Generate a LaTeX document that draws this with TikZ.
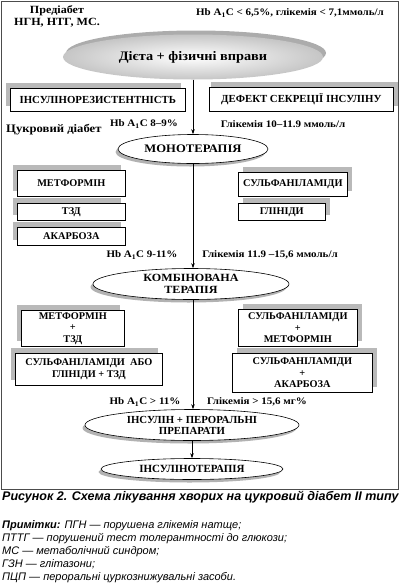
\documentclass[tikz,border=0pt]{standalone}
\usepackage{fontspec}
\setmainfont{Liberation Serif}
\newfontfamily\wf[FakeStretch=1.1]{Liberation Serif}
\newfontfamily\capfont{Liberation Sans}
\usetikzlibrary{shapes.geometric,arrows.meta,shadows}
\tikzset{
  lbl/.style={font=\wf\bfseries\fontsize{10}{12.5}\selectfont, inner sep=0, align=center},
  boxbase/.style={draw, fill=white, line width=0.6pt, anchor=north west, inner sep=0, align=center,
     font=\bfseries\fontsize{10.3}{11.5}\selectfont},
  lbox/.style={boxbase, drop shadow={shadow xshift=-4pt, shadow yshift=5pt, fill=gray!55, opacity=1}},
  rbox/.style={boxbase, drop shadow={shadow xshift=5pt, shadow yshift=5pt, fill=gray!55, opacity=1}},
  ell/.style={ellipse, draw, fill=white, line width=0.6pt, inner sep=0, align=center,
     font=\wf\bfseries\fontsize{11.5}{12}\selectfont,
     drop shadow={shadow xshift=-2.5pt, shadow yshift=-3pt, fill=gray!60, opacity=1}},
  arr/.style={line width=0.5pt, -{Stealth[length=5pt,width=3.5pt]}},
}
\begin{document}
\begin{tikzpicture}[x=1pt,y=-1pt]
\useasboundingbox (0,0) rectangle (400,587);
\draw[line width=0.7pt, black!70] (1,1) rectangle (398,489);

% top texts
\node[lbl, font=\wf\bfseries\fontsize{11}{12}\selectfont] (pre) at (57,16) {Предіабет\\НГН, НТГ, МС.};
\node[lbl] (goal) at (290,13) {Hb A\textsubscript{1}C < 6,5\%, глікемія < 7,1ммоль/л};

% diet ellipse
\node[ellipse, inner sep=0, minimum width=260, minimum height=45,
      shade, inner color=white, outer color=gray!45,
      drop shadow={shadow xshift=3pt, shadow yshift=4pt, fill=gray!65, opacity=1},
      font=\wf\bfseries\fontsize{13}{14}\selectfont] (diet) at (193,57) {Дієта + фізичні вправи};

% first row boxes
\node[lbox, minimum width=175, minimum height=23, font=\bfseries\fontsize{10.8}{12}\selectfont] (ir) at (10,88) {ІНСУЛІНОРЕЗИСТЕНТНІСТЬ};
\node[rbox, minimum width=184, minimum height=24, font=\bfseries\fontsize{10.8}{12}\selectfont,
      drop shadow={shadow xshift=2pt, shadow yshift=5pt, fill=gray!55, opacity=1}] (ds) at (209,87) {ДЕФЕКТ СЕКРЕЦІЇ ІНСУЛІНУ};

% labels
\node[lbl, anchor=west, font=\wf\bfseries\fontsize{11.5}{12}\selectfont] (cd) at (6,130) {Цукровий діабет};
\node[lbl] (h1) at (144,124) {Hb A\textsubscript{1}C 8–9\%};
\node[lbl] (g1) at (283,124) {Глікемія 10–11.9 ммоль/л};

% monotherapy
\node[ell, minimum width=150, minimum height=29] (mono) at (193,149) {МОНОТЕРАПІЯ};

\node[lbox, minimum width=108, minimum height=26] (met) at (17,170) {МЕТФОРМІН};
\node[lbox, minimum width=108, minimum height=17] (tzd) at (17,203) {ТЗД};
\node[lbox, minimum width=108, minimum height=18] (akb) at (17,227) {АКАРБОЗА};
\node[rbox, minimum width=109, minimum height=24] (sulf) at (238,172) {СУЛЬФАНІЛАМІДИ};
\node[rbox, minimum width=87, minimum height=17] (glin) at (238,203) {ГЛІНІДИ};

% labels 2
\node[lbl] (h2) at (142,255) {Hb A\textsubscript{1}C 9-11\%};
\node[lbl] (g2) at (270,255) {Глікемія 11.9 –15,6 ммоль/л};

% combined
\node[ell, minimum width=196, minimum height=31, font=\wf\bfseries\fontsize{11}{12}\selectfont] (komb) at (191,284) {КОМБІНОВАНА\\ТЕРАПІЯ};

\node[lbox, minimum width=103, minimum height=36] (mt) at (21,310) {МЕТФОРМІН\\+\\ТЗД};
\node[lbox, minimum width=147, minimum height=32] (sg) at (15,353) {СУЛЬФАНІЛАМІДИ\ \ АБО\\ГЛІНІДИ + ТЗД};
\node[rbox, minimum width=119, minimum height=37] (sm) at (238,309) {СУЛЬФАНІЛАМІДИ\\+\\МЕТФОРМІН};
\node[rbox, minimum width=140, minimum height=39] (sa) at (232,353) {СУЛЬФАНІЛАМІДИ\\+\\АКАРБОЗА};

% labels 3
\node[lbl] (h3) at (145,402) {Hb A\textsubscript{1}C > 11\%};
\node[lbl] (g3) at (257,402) {Глікемія > 15,6 мг\%};

% insulin
\node[ell, minimum width=214, minimum height=31, font=\bfseries\fontsize{10.8}{11}\selectfont] (ip) at (192,425) {ІНСУЛІН + ПЕРОРАЛЬНІ\\ПРЕПАРАТИ};
\node[ell, minimum width=182, minimum height=21, font=\bfseries\fontsize{11}{12}\selectfont] (it) at (192,469) {ІНСУЛІНОТЕРАПІЯ};

% connectors
\draw[arr] (diet.south) -- (mono.north);
\draw[arr] (mono.south) -- (komb.north -| mono.south);
\draw[arr] (komb.south -| mono.south) -- (ip.north -| mono.south);
\draw[arr] (ip.south) -- (it.north);

% caption and notes
\node[anchor=north west, inner sep=0, font=\capfont\bfseries\itshape\fontsize{12.5}{14}\selectfont] (cap) at (2,491) {Рисунок 2. Схема лікування хворих на цукровий діабет II типу};
\node[anchor=north west, inner sep=0, align=left, font=\capfont\itshape\fontsize{11}{13.2}\selectfont] (notes) at (2,520)
 {\textbf{Примітки:} ПГН — порушена глікемія натще;\\
  ПТТГ — порушений тест толерантності до глюкози;\\
  МС — метаболічний синдром;\\
  ГЗН — глітазони;\\
  ПЦП — пероральні цуркознижувальні засоби.};
\end{tikzpicture}
\end{document}
